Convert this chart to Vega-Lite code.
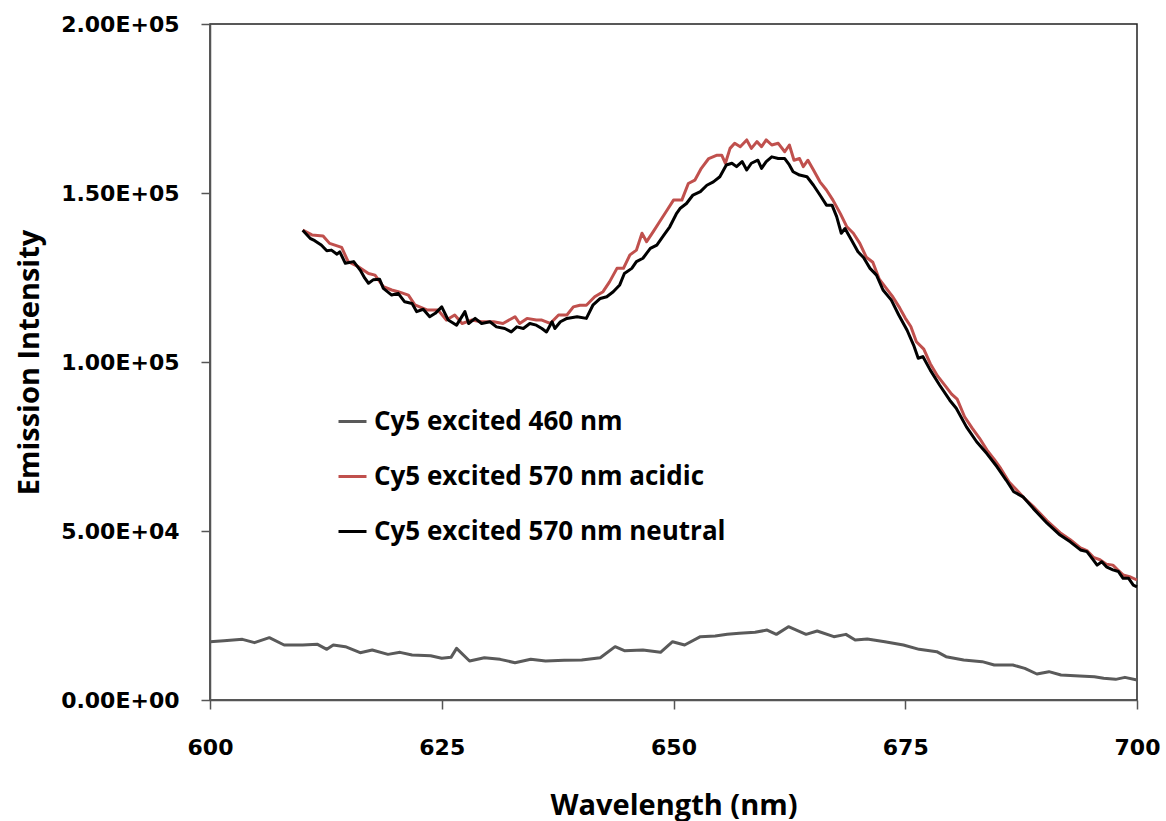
{
  "$schema": "https://vega.github.io/schema/vega-lite/v6.json",
  "width": 927,
  "height": 676,
  "autosize": {"type": "none"},
  "padding": {"left": 210, "top": 24, "right": 29, "bottom": 121},
  "background": "white",
  "config": {
    "view": {"stroke": "#222222", "strokeWidth": 1.5},
    "axis": {"grid": false, "domainColor": "#555555", "domainWidth": 1.5, "tickColor": "#555555", "tickWidth": 1.5, "tickSize": 9, "labelColor": "black", "titleColor": "black"}
  },
  "data": {
    "values": [
      {"series": "Cy5 excited 460 nm", "wl": 600.0, "I": 17250},
      {"series": "Cy5 excited 460 nm", "wl": 601.5, "I": 17550},
      {"series": "Cy5 excited 460 nm", "wl": 603.5, "I": 17950},
      {"series": "Cy5 excited 460 nm", "wl": 604.8, "I": 16960},
      {"series": "Cy5 excited 460 nm", "wl": 606.4, "I": 18440},
      {"series": "Cy5 excited 460 nm", "wl": 608.0, "I": 16270},
      {"series": "Cy5 excited 460 nm", "wl": 610.0, "I": 16270},
      {"series": "Cy5 excited 460 nm", "wl": 611.6, "I": 16470},
      {"series": "Cy5 excited 460 nm", "wl": 612.6, "I": 14990},
      {"series": "Cy5 excited 460 nm", "wl": 613.3, "I": 16270},
      {"series": "Cy5 excited 460 nm", "wl": 614.6, "I": 15780},
      {"series": "Cy5 excited 460 nm", "wl": 616.2, "I": 14000},
      {"series": "Cy5 excited 460 nm", "wl": 617.5, "I": 14790},
      {"series": "Cy5 excited 460 nm", "wl": 619.2, "I": 13500},
      {"series": "Cy5 excited 460 nm", "wl": 620.5, "I": 14100},
      {"series": "Cy5 excited 460 nm", "wl": 621.8, "I": 13310},
      {"series": "Cy5 excited 460 nm", "wl": 623.8, "I": 13110},
      {"series": "Cy5 excited 460 nm", "wl": 625.0, "I": 12330},
      {"series": "Cy5 excited 460 nm", "wl": 626.0, "I": 12620},
      {"series": "Cy5 excited 460 nm", "wl": 626.6, "I": 15280},
      {"series": "Cy5 excited 460 nm", "wl": 628.0, "I": 11540},
      {"series": "Cy5 excited 460 nm", "wl": 629.6, "I": 12520},
      {"series": "Cy5 excited 460 nm", "wl": 631.3, "I": 12030},
      {"series": "Cy5 excited 460 nm", "wl": 632.9, "I": 11040},
      {"series": "Cy5 excited 460 nm", "wl": 634.6, "I": 12030},
      {"series": "Cy5 excited 460 nm", "wl": 636.2, "I": 11540},
      {"series": "Cy5 excited 460 nm", "wl": 638.2, "I": 11730},
      {"series": "Cy5 excited 460 nm", "wl": 640.1, "I": 11830},
      {"series": "Cy5 excited 460 nm", "wl": 642.1, "I": 12520},
      {"series": "Cy5 excited 460 nm", "wl": 643.7, "I": 15780},
      {"series": "Cy5 excited 460 nm", "wl": 644.7, "I": 14590},
      {"series": "Cy5 excited 460 nm", "wl": 646.7, "I": 14790},
      {"series": "Cy5 excited 460 nm", "wl": 648.6, "I": 14100},
      {"series": "Cy5 excited 460 nm", "wl": 649.9, "I": 17250},
      {"series": "Cy5 excited 460 nm", "wl": 651.2, "I": 16270},
      {"series": "Cy5 excited 460 nm", "wl": 652.9, "I": 18730},
      {"series": "Cy5 excited 460 nm", "wl": 654.5, "I": 18930},
      {"series": "Cy5 excited 460 nm", "wl": 655.8, "I": 19420},
      {"series": "Cy5 excited 460 nm", "wl": 657.1, "I": 19720},
      {"series": "Cy5 excited 460 nm", "wl": 658.8, "I": 20020},
      {"series": "Cy5 excited 460 nm", "wl": 660.1, "I": 20700},
      {"series": "Cy5 excited 460 nm", "wl": 661.1, "I": 19420},
      {"series": "Cy5 excited 460 nm", "wl": 662.4, "I": 21690},
      {"series": "Cy5 excited 460 nm", "wl": 664.3, "I": 19420},
      {"series": "Cy5 excited 460 nm", "wl": 665.5, "I": 20410},
      {"series": "Cy5 excited 460 nm", "wl": 667.3, "I": 18730},
      {"series": "Cy5 excited 460 nm", "wl": 668.6, "I": 19420},
      {"series": "Cy5 excited 460 nm", "wl": 669.6, "I": 17750},
      {"series": "Cy5 excited 460 nm", "wl": 670.9, "I": 18040},
      {"series": "Cy5 excited 460 nm", "wl": 672.8, "I": 17250},
      {"series": "Cy5 excited 460 nm", "wl": 674.8, "I": 16270},
      {"series": "Cy5 excited 460 nm", "wl": 676.5, "I": 14990},
      {"series": "Cy5 excited 460 nm", "wl": 678.4, "I": 14300},
      {"series": "Cy5 excited 460 nm", "wl": 679.4, "I": 12820},
      {"series": "Cy5 excited 460 nm", "wl": 681.3, "I": 11830},
      {"series": "Cy5 excited 460 nm", "wl": 683.3, "I": 11340},
      {"series": "Cy5 excited 460 nm", "wl": 684.6, "I": 10350},
      {"series": "Cy5 excited 460 nm", "wl": 686.6, "I": 10350},
      {"series": "Cy5 excited 460 nm", "wl": 687.9, "I": 9370},
      {"series": "Cy5 excited 460 nm", "wl": 689.2, "I": 7690},
      {"series": "Cy5 excited 460 nm", "wl": 690.5, "I": 8380},
      {"series": "Cy5 excited 460 nm", "wl": 691.8, "I": 7400},
      {"series": "Cy5 excited 460 nm", "wl": 693.8, "I": 7100},
      {"series": "Cy5 excited 460 nm", "wl": 695.4, "I": 6900},
      {"series": "Cy5 excited 460 nm", "wl": 696.4, "I": 6410},
      {"series": "Cy5 excited 460 nm", "wl": 697.7, "I": 6110},
      {"series": "Cy5 excited 460 nm", "wl": 698.7, "I": 6700},
      {"series": "Cy5 excited 460 nm", "wl": 700.0, "I": 5920},

      {"series": "Cy5 excited 570 nm acidic", "wl": 610.0, "I": 139000},
      {"series": "Cy5 excited 570 nm acidic", "wl": 611.0, "I": 137600},
      {"series": "Cy5 excited 570 nm acidic", "wl": 612.2, "I": 137300},
      {"series": "Cy5 excited 570 nm acidic", "wl": 612.9, "I": 135100},
      {"series": "Cy5 excited 570 nm acidic", "wl": 614.2, "I": 133900},
      {"series": "Cy5 excited 570 nm acidic", "wl": 614.9, "I": 129700},
      {"series": "Cy5 excited 570 nm acidic", "wl": 616.0, "I": 128200},
      {"series": "Cy5 excited 570 nm acidic", "wl": 617.1, "I": 126200},
      {"series": "Cy5 excited 570 nm acidic", "wl": 617.8, "I": 125700},
      {"series": "Cy5 excited 570 nm acidic", "wl": 618.7, "I": 122300},
      {"series": "Cy5 excited 570 nm acidic", "wl": 619.6, "I": 121300},
      {"series": "Cy5 excited 570 nm acidic", "wl": 620.3, "I": 120800},
      {"series": "Cy5 excited 570 nm acidic", "wl": 621.4, "I": 119800},
      {"series": "Cy5 excited 570 nm acidic", "wl": 622.1, "I": 116900},
      {"series": "Cy5 excited 570 nm acidic", "wl": 623.4, "I": 115400},
      {"series": "Cy5 excited 570 nm acidic", "wl": 624.6, "I": 115400},
      {"series": "Cy5 excited 570 nm acidic", "wl": 625.5, "I": 112400},
      {"series": "Cy5 excited 570 nm acidic", "wl": 626.4, "I": 113900},
      {"series": "Cy5 excited 570 nm acidic", "wl": 627.2, "I": 111400},
      {"series": "Cy5 excited 570 nm acidic", "wl": 628.2, "I": 112400},
      {"series": "Cy5 excited 570 nm acidic", "wl": 629.3, "I": 111900},
      {"series": "Cy5 excited 570 nm acidic", "wl": 630.6, "I": 111900},
      {"series": "Cy5 excited 570 nm acidic", "wl": 631.6, "I": 111400},
      {"series": "Cy5 excited 570 nm acidic", "wl": 632.9, "I": 113400},
      {"series": "Cy5 excited 570 nm acidic", "wl": 633.4, "I": 111400},
      {"series": "Cy5 excited 570 nm acidic", "wl": 634.2, "I": 112900},
      {"series": "Cy5 excited 570 nm acidic", "wl": 635.2, "I": 112400},
      {"series": "Cy5 excited 570 nm acidic", "wl": 635.8, "I": 112400},
      {"series": "Cy5 excited 570 nm acidic", "wl": 636.7, "I": 111400},
      {"series": "Cy5 excited 570 nm acidic", "wl": 637.6, "I": 113900},
      {"series": "Cy5 excited 570 nm acidic", "wl": 638.5, "I": 113900},
      {"series": "Cy5 excited 570 nm acidic", "wl": 639.2, "I": 116300},
      {"series": "Cy5 excited 570 nm acidic", "wl": 639.9, "I": 116800},
      {"series": "Cy5 excited 570 nm acidic", "wl": 640.6, "I": 116800},
      {"series": "Cy5 excited 570 nm acidic", "wl": 641.5, "I": 119300},
      {"series": "Cy5 excited 570 nm acidic", "wl": 642.4, "I": 120800},
      {"series": "Cy5 excited 570 nm acidic", "wl": 643.1, "I": 123700},
      {"series": "Cy5 excited 570 nm acidic", "wl": 643.9, "I": 127700},
      {"series": "Cy5 excited 570 nm acidic", "wl": 644.6, "I": 127700},
      {"series": "Cy5 excited 570 nm acidic", "wl": 645.3, "I": 131700},
      {"series": "Cy5 excited 570 nm acidic", "wl": 646.0, "I": 133100},
      {"series": "Cy5 excited 570 nm acidic", "wl": 646.6, "I": 138100},
      {"series": "Cy5 excited 570 nm acidic", "wl": 647.1, "I": 135600},
      {"series": "Cy5 excited 570 nm acidic", "wl": 647.8, "I": 138500},
      {"series": "Cy5 excited 570 nm acidic", "wl": 648.5, "I": 141500},
      {"series": "Cy5 excited 570 nm acidic", "wl": 649.3, "I": 144900},
      {"series": "Cy5 excited 570 nm acidic", "wl": 650.0, "I": 147900},
      {"series": "Cy5 excited 570 nm acidic", "wl": 650.9, "I": 147900},
      {"series": "Cy5 excited 570 nm acidic", "wl": 651.6, "I": 152800},
      {"series": "Cy5 excited 570 nm acidic", "wl": 652.3, "I": 153800},
      {"series": "Cy5 excited 570 nm acidic", "wl": 653.0, "I": 157300},
      {"series": "Cy5 excited 570 nm acidic", "wl": 653.8, "I": 160200},
      {"series": "Cy5 excited 570 nm acidic", "wl": 654.7, "I": 161200},
      {"series": "Cy5 excited 570 nm acidic", "wl": 655.2, "I": 161200},
      {"series": "Cy5 excited 570 nm acidic", "wl": 655.6, "I": 158800},
      {"series": "Cy5 excited 570 nm acidic", "wl": 656.1, "I": 163200},
      {"series": "Cy5 excited 570 nm acidic", "wl": 656.6, "I": 164700},
      {"series": "Cy5 excited 570 nm acidic", "wl": 657.2, "I": 163700},
      {"series": "Cy5 excited 570 nm acidic", "wl": 657.9, "I": 165700},
      {"series": "Cy5 excited 570 nm acidic", "wl": 658.4, "I": 163200},
      {"series": "Cy5 excited 570 nm acidic", "wl": 659.0, "I": 165200},
      {"series": "Cy5 excited 570 nm acidic", "wl": 659.5, "I": 163700},
      {"series": "Cy5 excited 570 nm acidic", "wl": 660.0, "I": 165700},
      {"series": "Cy5 excited 570 nm acidic", "wl": 660.6, "I": 164200},
      {"series": "Cy5 excited 570 nm acidic", "wl": 661.3, "I": 164700},
      {"series": "Cy5 excited 570 nm acidic", "wl": 662.0, "I": 162200},
      {"series": "Cy5 excited 570 nm acidic", "wl": 662.5, "I": 164200},
      {"series": "Cy5 excited 570 nm acidic", "wl": 663.0, "I": 159700},
      {"series": "Cy5 excited 570 nm acidic", "wl": 663.6, "I": 160200},
      {"series": "Cy5 excited 570 nm acidic", "wl": 664.0, "I": 157800},
      {"series": "Cy5 excited 570 nm acidic", "wl": 664.5, "I": 159700},
      {"series": "Cy5 excited 570 nm acidic", "wl": 665.1, "I": 156800},
      {"series": "Cy5 excited 570 nm acidic", "wl": 665.8, "I": 153300},
      {"series": "Cy5 excited 570 nm acidic", "wl": 666.5, "I": 150900},
      {"series": "Cy5 excited 570 nm acidic", "wl": 667.2, "I": 147900},
      {"series": "Cy5 excited 570 nm acidic", "wl": 668.0, "I": 143900},
      {"series": "Cy5 excited 570 nm acidic", "wl": 668.7, "I": 140000},
      {"series": "Cy5 excited 570 nm acidic", "wl": 669.4, "I": 138100},
      {"series": "Cy5 excited 570 nm acidic", "wl": 670.1, "I": 135100},
      {"series": "Cy5 excited 570 nm acidic", "wl": 670.8, "I": 131000},
      {"series": "Cy5 excited 570 nm acidic", "wl": 671.5, "I": 129500},
      {"series": "Cy5 excited 570 nm acidic", "wl": 672.2, "I": 124500},
      {"series": "Cy5 excited 570 nm acidic", "wl": 672.9, "I": 122000},
      {"series": "Cy5 excited 570 nm acidic", "wl": 673.6, "I": 119500},
      {"series": "Cy5 excited 570 nm acidic", "wl": 674.4, "I": 116000},
      {"series": "Cy5 excited 570 nm acidic", "wl": 675.0, "I": 113000},
      {"series": "Cy5 excited 570 nm acidic", "wl": 675.6, "I": 110500},
      {"series": "Cy5 excited 570 nm acidic", "wl": 676.2, "I": 106000},
      {"series": "Cy5 excited 570 nm acidic", "wl": 677.0, "I": 103800},
      {"series": "Cy5 excited 570 nm acidic", "wl": 677.7, "I": 99500},
      {"series": "Cy5 excited 570 nm acidic", "wl": 678.5, "I": 95800},
      {"series": "Cy5 excited 570 nm acidic", "wl": 679.3, "I": 93000},
      {"series": "Cy5 excited 570 nm acidic", "wl": 680.0, "I": 90500},
      {"series": "Cy5 excited 570 nm acidic", "wl": 680.6, "I": 89000},
      {"series": "Cy5 excited 570 nm acidic", "wl": 681.4, "I": 83800},
      {"series": "Cy5 excited 570 nm acidic", "wl": 682.2, "I": 80500},
      {"series": "Cy5 excited 570 nm acidic", "wl": 683.0, "I": 77500},
      {"series": "Cy5 excited 570 nm acidic", "wl": 683.8, "I": 74000},
      {"series": "Cy5 excited 570 nm acidic", "wl": 684.6, "I": 71200},
      {"series": "Cy5 excited 570 nm acidic", "wl": 685.3, "I": 68500},
      {"series": "Cy5 excited 570 nm acidic", "wl": 686.2, "I": 64500},
      {"series": "Cy5 excited 570 nm acidic", "wl": 687.0, "I": 62200},
      {"series": "Cy5 excited 570 nm acidic", "wl": 687.8, "I": 59800},
      {"series": "Cy5 excited 570 nm acidic", "wl": 688.8, "I": 57300},
      {"series": "Cy5 excited 570 nm acidic", "wl": 690.3, "I": 53000},
      {"series": "Cy5 excited 570 nm acidic", "wl": 691.7, "I": 49500},
      {"series": "Cy5 excited 570 nm acidic", "wl": 692.8, "I": 47400},
      {"series": "Cy5 excited 570 nm acidic", "wl": 693.9, "I": 45000},
      {"series": "Cy5 excited 570 nm acidic", "wl": 694.6, "I": 44200},
      {"series": "Cy5 excited 570 nm acidic", "wl": 695.3, "I": 42200},
      {"series": "Cy5 excited 570 nm acidic", "wl": 696.0, "I": 41500},
      {"series": "Cy5 excited 570 nm acidic", "wl": 696.7, "I": 40200},
      {"series": "Cy5 excited 570 nm acidic", "wl": 697.4, "I": 39900},
      {"series": "Cy5 excited 570 nm acidic", "wl": 698.0, "I": 38300},
      {"series": "Cy5 excited 570 nm acidic", "wl": 698.5, "I": 37000},
      {"series": "Cy5 excited 570 nm acidic", "wl": 699.2, "I": 36500},
      {"series": "Cy5 excited 570 nm acidic", "wl": 700.0, "I": 35500},

      {"series": "Cy5 excited 570 nm neutral", "wl": 610.0, "I": 139000},
      {"series": "Cy5 excited 570 nm neutral", "wl": 610.8, "I": 136600},
      {"series": "Cy5 excited 570 nm neutral", "wl": 611.3, "I": 135900},
      {"series": "Cy5 excited 570 nm neutral", "wl": 612.0, "I": 134600},
      {"series": "Cy5 excited 570 nm neutral", "wl": 612.6, "I": 132900},
      {"series": "Cy5 excited 570 nm neutral", "wl": 613.1, "I": 133100},
      {"series": "Cy5 excited 570 nm neutral", "wl": 613.7, "I": 131900},
      {"series": "Cy5 excited 570 nm neutral", "wl": 614.0, "I": 132600},
      {"series": "Cy5 excited 570 nm neutral", "wl": 614.6, "I": 129200},
      {"series": "Cy5 excited 570 nm neutral", "wl": 615.5, "I": 129700},
      {"series": "Cy5 excited 570 nm neutral", "wl": 616.2, "I": 127200},
      {"series": "Cy5 excited 570 nm neutral", "wl": 616.7, "I": 124800},
      {"series": "Cy5 excited 570 nm neutral", "wl": 617.1, "I": 123300},
      {"series": "Cy5 excited 570 nm neutral", "wl": 617.6, "I": 124300},
      {"series": "Cy5 excited 570 nm neutral", "wl": 618.3, "I": 124500},
      {"series": "Cy5 excited 570 nm neutral", "wl": 618.7, "I": 121800},
      {"series": "Cy5 excited 570 nm neutral", "wl": 619.6, "I": 119800},
      {"series": "Cy5 excited 570 nm neutral", "wl": 620.3, "I": 120300},
      {"series": "Cy5 excited 570 nm neutral", "wl": 621.0, "I": 117800},
      {"series": "Cy5 excited 570 nm neutral", "wl": 621.8, "I": 117300},
      {"series": "Cy5 excited 570 nm neutral", "wl": 622.3, "I": 114900},
      {"series": "Cy5 excited 570 nm neutral", "wl": 623.0, "I": 115600},
      {"series": "Cy5 excited 570 nm neutral", "wl": 623.7, "I": 113400},
      {"series": "Cy5 excited 570 nm neutral", "wl": 624.3, "I": 114400},
      {"series": "Cy5 excited 570 nm neutral", "wl": 625.0, "I": 116300},
      {"series": "Cy5 excited 570 nm neutral", "wl": 625.7, "I": 112400},
      {"series": "Cy5 excited 570 nm neutral", "wl": 626.6, "I": 110900},
      {"series": "Cy5 excited 570 nm neutral", "wl": 627.5, "I": 114900},
      {"series": "Cy5 excited 570 nm neutral", "wl": 627.9, "I": 111400},
      {"series": "Cy5 excited 570 nm neutral", "wl": 628.6, "I": 112900},
      {"series": "Cy5 excited 570 nm neutral", "wl": 629.3, "I": 111400},
      {"series": "Cy5 excited 570 nm neutral", "wl": 630.2, "I": 111900},
      {"series": "Cy5 excited 570 nm neutral", "wl": 630.9, "I": 110400},
      {"series": "Cy5 excited 570 nm neutral", "wl": 631.8, "I": 109900},
      {"series": "Cy5 excited 570 nm neutral", "wl": 632.5, "I": 108900},
      {"series": "Cy5 excited 570 nm neutral", "wl": 633.1, "I": 110400},
      {"series": "Cy5 excited 570 nm neutral", "wl": 633.8, "I": 109900},
      {"series": "Cy5 excited 570 nm neutral", "wl": 634.5, "I": 111400},
      {"series": "Cy5 excited 570 nm neutral", "wl": 635.2, "I": 110900},
      {"series": "Cy5 excited 570 nm neutral", "wl": 635.8, "I": 109900},
      {"series": "Cy5 excited 570 nm neutral", "wl": 636.3, "I": 108900},
      {"series": "Cy5 excited 570 nm neutral", "wl": 636.9, "I": 111900},
      {"series": "Cy5 excited 570 nm neutral", "wl": 637.2, "I": 109900},
      {"series": "Cy5 excited 570 nm neutral", "wl": 637.8, "I": 111900},
      {"series": "Cy5 excited 570 nm neutral", "wl": 638.5, "I": 112900},
      {"series": "Cy5 excited 570 nm neutral", "wl": 639.6, "I": 113400},
      {"series": "Cy5 excited 570 nm neutral", "wl": 640.6, "I": 112900},
      {"series": "Cy5 excited 570 nm neutral", "wl": 641.3, "I": 116800},
      {"series": "Cy5 excited 570 nm neutral", "wl": 642.1, "I": 118800},
      {"series": "Cy5 excited 570 nm neutral", "wl": 642.8, "I": 119300},
      {"series": "Cy5 excited 570 nm neutral", "wl": 643.5, "I": 120800},
      {"series": "Cy5 excited 570 nm neutral", "wl": 644.2, "I": 122800},
      {"series": "Cy5 excited 570 nm neutral", "wl": 644.7, "I": 126200},
      {"series": "Cy5 excited 570 nm neutral", "wl": 645.5, "I": 127700},
      {"series": "Cy5 excited 570 nm neutral", "wl": 646.0, "I": 129700},
      {"series": "Cy5 excited 570 nm neutral", "wl": 646.7, "I": 130700},
      {"series": "Cy5 excited 570 nm neutral", "wl": 647.5, "I": 133600},
      {"series": "Cy5 excited 570 nm neutral", "wl": 648.2, "I": 134600},
      {"series": "Cy5 excited 570 nm neutral", "wl": 648.9, "I": 137300},
      {"series": "Cy5 excited 570 nm neutral", "wl": 649.6, "I": 140000},
      {"series": "Cy5 excited 570 nm neutral", "wl": 650.3, "I": 143800},
      {"series": "Cy5 excited 570 nm neutral", "wl": 650.7, "I": 145400},
      {"series": "Cy5 excited 570 nm neutral", "wl": 651.4, "I": 146900},
      {"series": "Cy5 excited 570 nm neutral", "wl": 652.1, "I": 149400},
      {"series": "Cy5 excited 570 nm neutral", "wl": 652.9, "I": 150400},
      {"series": "Cy5 excited 570 nm neutral", "wl": 653.6, "I": 152300},
      {"series": "Cy5 excited 570 nm neutral", "wl": 654.3, "I": 153300},
      {"series": "Cy5 excited 570 nm neutral", "wl": 655.0, "I": 154800},
      {"series": "Cy5 excited 570 nm neutral", "wl": 655.7, "I": 158300},
      {"series": "Cy5 excited 570 nm neutral", "wl": 656.3, "I": 158800},
      {"series": "Cy5 excited 570 nm neutral", "wl": 656.8, "I": 157800},
      {"series": "Cy5 excited 570 nm neutral", "wl": 657.4, "I": 159300},
      {"series": "Cy5 excited 570 nm neutral", "wl": 657.9, "I": 156800},
      {"series": "Cy5 excited 570 nm neutral", "wl": 658.4, "I": 158800},
      {"series": "Cy5 excited 570 nm neutral", "wl": 659.1, "I": 159700},
      {"series": "Cy5 excited 570 nm neutral", "wl": 659.5, "I": 157300},
      {"series": "Cy5 excited 570 nm neutral", "wl": 660.0, "I": 159300},
      {"series": "Cy5 excited 570 nm neutral", "wl": 660.6, "I": 160700},
      {"series": "Cy5 excited 570 nm neutral", "wl": 661.3, "I": 160200},
      {"series": "Cy5 excited 570 nm neutral", "wl": 662.0, "I": 160200},
      {"series": "Cy5 excited 570 nm neutral", "wl": 662.5, "I": 158300},
      {"series": "Cy5 excited 570 nm neutral", "wl": 662.9, "I": 156300},
      {"series": "Cy5 excited 570 nm neutral", "wl": 663.6, "I": 155300},
      {"series": "Cy5 excited 570 nm neutral", "wl": 664.4, "I": 154800},
      {"series": "Cy5 excited 570 nm neutral", "wl": 665.1, "I": 152300},
      {"series": "Cy5 excited 570 nm neutral", "wl": 665.8, "I": 149400},
      {"series": "Cy5 excited 570 nm neutral", "wl": 666.5, "I": 146400},
      {"series": "Cy5 excited 570 nm neutral", "wl": 667.1, "I": 146400},
      {"series": "Cy5 excited 570 nm neutral", "wl": 667.6, "I": 143000},
      {"series": "Cy5 excited 570 nm neutral", "wl": 668.1, "I": 138100},
      {"series": "Cy5 excited 570 nm neutral", "wl": 668.5, "I": 139500},
      {"series": "Cy5 excited 570 nm neutral", "wl": 669.2, "I": 136100},
      {"series": "Cy5 excited 570 nm neutral", "wl": 669.9, "I": 132600},
      {"series": "Cy5 excited 570 nm neutral", "wl": 670.5, "I": 130900},
      {"series": "Cy5 excited 570 nm neutral", "wl": 671.2, "I": 127700},
      {"series": "Cy5 excited 570 nm neutral", "wl": 671.9, "I": 125700},
      {"series": "Cy5 excited 570 nm neutral", "wl": 672.6, "I": 121300},
      {"series": "Cy5 excited 570 nm neutral", "wl": 673.5, "I": 118300},
      {"series": "Cy5 excited 570 nm neutral", "wl": 674.3, "I": 113900},
      {"series": "Cy5 excited 570 nm neutral", "wl": 675.2, "I": 109400},
      {"series": "Cy5 excited 570 nm neutral", "wl": 675.9, "I": 105000},
      {"series": "Cy5 excited 570 nm neutral", "wl": 676.4, "I": 101100},
      {"series": "Cy5 excited 570 nm neutral", "wl": 676.9, "I": 101600},
      {"series": "Cy5 excited 570 nm neutral", "wl": 677.7, "I": 97600},
      {"series": "Cy5 excited 570 nm neutral", "wl": 678.7, "I": 93200},
      {"series": "Cy5 excited 570 nm neutral", "wl": 679.8, "I": 88700},
      {"series": "Cy5 excited 570 nm neutral", "wl": 680.5, "I": 86300},
      {"series": "Cy5 excited 570 nm neutral", "wl": 681.6, "I": 80800},
      {"series": "Cy5 excited 570 nm neutral", "wl": 682.7, "I": 76400},
      {"series": "Cy5 excited 570 nm neutral", "wl": 683.8, "I": 72900},
      {"series": "Cy5 excited 570 nm neutral", "wl": 684.9, "I": 69000},
      {"series": "Cy5 excited 570 nm neutral", "wl": 685.9, "I": 65000},
      {"series": "Cy5 excited 570 nm neutral", "wl": 686.7, "I": 61600},
      {"series": "Cy5 excited 570 nm neutral", "wl": 687.7, "I": 60100},
      {"series": "Cy5 excited 570 nm neutral", "wl": 688.8, "I": 56700},
      {"series": "Cy5 excited 570 nm neutral", "wl": 690.3, "I": 52300},
      {"series": "Cy5 excited 570 nm neutral", "wl": 691.7, "I": 48800},
      {"series": "Cy5 excited 570 nm neutral", "wl": 692.8, "I": 46800},
      {"series": "Cy5 excited 570 nm neutral", "wl": 693.9, "I": 44400},
      {"series": "Cy5 excited 570 nm neutral", "wl": 694.6, "I": 43900},
      {"series": "Cy5 excited 570 nm neutral", "wl": 695.3, "I": 41400},
      {"series": "Cy5 excited 570 nm neutral", "wl": 695.7, "I": 39900},
      {"series": "Cy5 excited 570 nm neutral", "wl": 696.2, "I": 40900},
      {"series": "Cy5 excited 570 nm neutral", "wl": 696.7, "I": 39400},
      {"series": "Cy5 excited 570 nm neutral", "wl": 697.4, "I": 38500},
      {"series": "Cy5 excited 570 nm neutral", "wl": 698.0, "I": 38000},
      {"series": "Cy5 excited 570 nm neutral", "wl": 698.5, "I": 36000},
      {"series": "Cy5 excited 570 nm neutral", "wl": 699.1, "I": 36000},
      {"series": "Cy5 excited 570 nm neutral", "wl": 699.6, "I": 34000},
      {"series": "Cy5 excited 570 nm neutral", "wl": 700.0, "I": 33500}
    ]
  },
  "mark": {"type": "line", "strokeWidth": 3, "strokeJoin": "round"},
  "encoding": {
    "x": {
      "field": "wl", "type": "quantitative",
      "scale": {"domain": [600, 700], "nice": false, "zero": false},
      "axis": {
        "values": [600, 625, 650, 675, 700],
        "title": "Wavelength (nm)",
        "titleFont": "Open Sans", "titleFontSize": 29, "titleFontWeight": "bold", "titlePadding": 33,
        "labelFont": "DejaVu Sans", "labelFontSize": 22, "labelFontWeight": "bold", "labelPadding": 28,
        "labelFlush": false
      }
    },
    "y": {
      "field": "I", "type": "quantitative",
      "scale": {"domain": [0, 200000], "nice": false},
      "axis": {
        "values": [0, 50000, 100000, 150000, 200000],
        "labelExpr": "datum.value == 0 ? '0.00E+00' : datum.value == 50000 ? '5.00E+04' : datum.value == 100000 ? '1.00E+05' : datum.value == 150000 ? '1.50E+05' : '2.00E+05'",
        "title": "Emission Intensity",
        "titleFont": "Open Sans", "titleFontSize": 29, "titleFontWeight": "bold", "titlePadding": 16,
        "labelFont": "DejaVu Sans", "labelFontSize": 22, "labelFontWeight": "bold", "labelPadding": 22,
        "labelFlush": false
      }
    },
    "color": {
      "field": "series", "type": "nominal",
      "scale": {
        "domain": ["Cy5 excited 460 nm", "Cy5 excited 570 nm acidic", "Cy5 excited 570 nm neutral"],
        "range": ["#5a5a5a", "#c0504d", "#000000"]
      },
      "legend": {
        "orient": "none", "legendX": 127, "legendY": 382,
        "title": null,
        "symbolType": "stroke", "symbolSize": 784, "symbolStrokeWidth": 3,
        "labelFont": "Open Sans", "labelFontSize": 26, "labelFontWeight": "bold", "labelColor": "black",
        "labelLimit": 600, "labelOffset": 6, "rowPadding": 26
      }
    }
  }
}
